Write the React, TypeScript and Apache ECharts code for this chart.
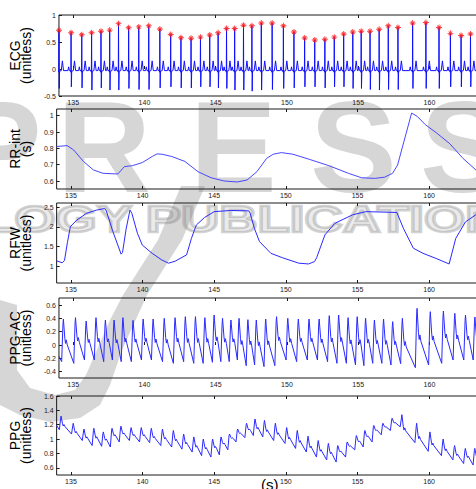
import React, { useEffect, useRef } from "react";
import * as echarts from "echarts";

// ---------- axis ranges & ticks ----------
const X_MIN = 134;
const X_MAX = 164.67;
const xTicks = [135, 140, 145, 150, 155, 160];

const ecgRange = [-0.5, 1];
const rrRange = [0.551, 1.041];
const rfwRange = [0.576, 2.61];
const ppgAcRange = [-0.495, 0.705];
const ppgRange = [0.5, 1.6];

const ecgYTicks = [-0.5, 0, 0.5, 1];
const rrYTicks = [0.6, 0.7, 0.8, 0.9, 1];
const rfwYTicks = [1, 1.5, 2, 2.5];
const ppgAcYTicks = [-0.4, -0.2, 0, 0.2, 0.4, 0.6];
const ppgYTicks = [0.6, 0.8, 1, 1.2, 1.4, 1.6];

const panelNames = ["ECG\n(unitless)", "RR-int\n(s)", "RFW\n(unitless)", "PPG-AC\n(unitless)", "PPG\n(unitless)"];

// ---------- ECG beats (R-peak times, R amplitudes, S depths) ----------
const rTimes = [134.0, 134.85, 135.6, 136.29, 136.95, 137.56, 138.18, 138.89, 139.6, 140.3, 141.08, 141.84, 142.56, 143.27, 143.93, 144.58, 145.17, 145.76, 146.33, 146.95, 147.54, 148.2, 148.96, 149.75, 150.49, 151.24, 151.95, 152.66, 153.32, 153.98, 154.62, 155.21, 155.83, 156.47, 157.11, 157.79, 158.82, 159.75, 160.67, 161.47, 162.22, 162.88];
const rAmps = [0.716, 0.673, 0.636, 0.673, 0.7, 0.72, 0.84, 0.765, 0.78, 0.8, 0.74, 0.64, 0.58, 0.57, 0.59, 0.63, 0.67, 0.75, 0.75, 0.81, 0.8, 0.85, 0.85, 0.8, 0.685, 0.574, 0.537, 0.55, 0.59, 0.65, 0.685, 0.7, 0.7, 0.735, 0.8, 0.77, 0.85, 0.86, 0.77, 0.66, 0.62, 0.65];
const sDepths = [-0.36, -0.33, -0.35, -0.39, -0.35, -0.39, -0.39, -0.36, -0.38, -0.38, -0.35, -0.33, -0.35, -0.35, -0.33, -0.33, -0.35, -0.36, -0.39, -0.39, -0.41, -0.39, -0.38, -0.36, -0.35, -0.33, -0.33, -0.35, -0.33, -0.33, -0.36, -0.36, -0.38, -0.39, -0.38, -0.38, -0.36, -0.36, -0.36, -0.33, -0.33, -0.33];
const ecgBaseline = -0.03;
const pWaveAmp = 0.04;
const tWaveAmp = 0.15;

// ---------- RR interval ----------
const rrTimes = [134.0, 134.73, 135.19, 135.87, 136.56, 137.24, 138.27, 138.73, 139.3, 139.98, 140.67, 141.01, 141.35, 142.04, 142.95, 143.87, 144.78, 145.69, 146.61, 147.29, 147.98, 148.66, 149.12, 149.69, 150.49, 151.63, 153.0, 154.37, 155.28, 156.2, 156.88, 157.45, 157.8, 158.78, 159.17, 159.74, 160.54, 161.45, 162.36, 163.3, 164.2];
const rrValues = [0.811, 0.817, 0.79, 0.72, 0.668, 0.647, 0.643, 0.688, 0.694, 0.713, 0.75, 0.766, 0.764, 0.75, 0.72, 0.657, 0.62, 0.6, 0.594, 0.606, 0.657, 0.739, 0.764, 0.774, 0.764, 0.733, 0.694, 0.647, 0.62, 0.616, 0.623, 0.647, 0.698, 1.016, 0.996, 0.945, 0.893, 0.828, 0.739, 0.665, 0.64];

// ---------- RFW ----------
const rfwTimes = [134.0, 134.39, 134.55, 134.75, 134.96, 135.42, 136.1, 136.79, 137.36, 137.47, 137.93, 138.5, 138.6, 138.85, 139.12, 139.25, 139.64, 139.98, 140.67, 141.35, 141.81, 142.27, 143.07, 143.41, 143.75, 144.32, 145.0, 146.15, 147.41, 147.5, 147.8, 148.16, 148.96, 149.75, 150.9, 151.58, 152.0, 152.15, 152.73, 153.41, 154.66, 155.58, 157.75, 158.2, 158.9, 159.58, 160.49, 161.4, 161.86, 162.54, 163.3, 164.2];
const rfwValues = [1.14, 1.09, 1.15, 1.6, 2.01, 2.18, 2.35, 2.43, 2.47, 2.41, 1.88, 1.31, 1.35, 1.95, 2.43, 2.35, 1.84, 1.54, 1.33, 1.16, 1.08, 1.13, 1.29, 1.71, 2.05, 2.24, 2.39, 2.42, 2.41, 2.36, 1.97, 1.63, 1.33, 1.22, 1.08, 1.06, 1.12, 1.22, 1.8, 2.09, 2.31, 2.39, 2.37, 1.97, 1.46, 1.33, 1.2, 1.06, 1.71, 2.13, 2.32, 2.4];

// ---------- PPG pulses (one per beat) ----------
const ppgDelay = 0.31;
const ppgAcStart = -0.17;
const ppgAcPeaks = [0.39, 0.41, 0.36, 0.41, 0.375, 0.375, 0.41, 0.37, 0.39, 0.39, 0.4, 0.41, 0.425, 0.425, 0.41, 0.45, 0.4, 0.375, 0.4, 0.38, 0.375, 0.39, 0.425, 0.4, 0.39, 0.39, 0.39, 0.44, 0.45, 0.41, 0.425, 0.4, 0.375, 0.39, 0.35, 0.4, 0.55, 0.5, 0.51, 0.475, 0.45, 0.42];
const ppgAcTroughs = [-0.25, -0.275, -0.225, -0.225, -0.25, -0.225, -0.25, -0.25, -0.225, -0.225, -0.25, -0.275, -0.25, -0.275, -0.275, -0.26, -0.25, -0.25, -0.225, -0.31, -0.3, -0.325, -0.31, -0.225, -0.25, -0.225, -0.225, -0.25, -0.275, -0.275, -0.3, -0.31, -0.275, -0.275, -0.3, -0.28, -0.34, -0.3, -0.275, -0.225, -0.225, -0.225];
const ppgStart = 1.19;
const ppgPeaks = [1.32, 1.22, 1.14, 1.15, 1.1, 1.15, 1.18, 1.16, 1.16, 1.15, 1.14, 1.12, 1.07, 1.03, 1.0, 1.0, 1.03, 1.07, 1.14, 1.22, 1.28, 1.26, 1.22, 1.16, 1.12, 1.04, 0.98, 0.94, 0.91, 0.96, 1.05, 1.12, 1.19, 1.22, 1.29, 1.34, 1.22, 1.1, 1.0, 0.91, 0.87, 0.87];
const ppgTroughs = [1.13, 1.07, 0.98, 0.91, 0.9, 0.89, 0.96, 0.98, 0.96, 0.95, 0.91, 0.89, 0.86, 0.82, 0.77, 0.75, 0.78, 0.85, 0.96, 1.02, 1.05, 1.03, 0.98, 0.94, 0.87, 0.82, 0.75, 0.71, 0.68, 0.75, 0.85, 0.89, 0.96, 1.06, 1.12, 1.17, 0.95, 0.83, 0.77, 0.71, 0.66, 0.64];

// ---------- builders ----------
function buildEcg(): number[][] {
  const pts: number[][] = [[X_MIN - 0.5, ecgBaseline]];
  rTimes.forEach((t, i) => {
    pts.push(
      [t - 0.22, ecgBaseline],
      [t - 0.17, pWaveAmp],
      [t - 0.12, ecgBaseline],
      [t - 0.035, ecgBaseline],
      [t - 0.015, -0.06],
      [t, rAmps[i]],
      [t + 0.02, sDepths[i]],
      [t + 0.045, -0.04],
      [t + 0.16, ecgBaseline],
      [t + 0.24, tWaveAmp],
      [t + 0.32, ecgBaseline]
    );
  });
  pts.push([X_MAX, ecgBaseline]);
  return pts;
}

function buildPulse(peaks: number[], troughs: number[], start: number): number[][] {
  const pts: number[][] = [[X_MIN, start]];
  rTimes.forEach((t, i) => {
    const tp = t + ppgDelay;
    const p = peaks[i];
    const next = i + 1 < troughs.length ? troughs[i + 1] : troughs[i];
    const range = p - next;
    pts.push(
      [tp - 0.12, troughs[i]],
      [tp - 0.03, p - 0.12 * range],
      [tp, p],
      [tp + 0.1, p - 0.43 * range],
      [tp + 0.15, p - 0.55 * range],
      [tp + 0.2, p - 0.47 * range],
      [tp + 0.27, p - 0.58 * range]
    );
  });
  return pts;
}

const zip = (a: number[], b: number[]) => a.map((v, i) => [v, b[i]]);

const INK = "#1a1a1a";
const LINE = "#1f1fff";
const TICK_FONT = "'Liberation Sans Narrow', 'Liberation Sans', Arial, sans-serif";
const NAME_FONT = "'Liberation Sans', Arial, sans-serif";
const WM = "rgba(128,128,128,0.32)";

const STAR =
  "path://M-0.8,-5L0.8,-5L0.8,5L-0.8,5Z M-5,-0.8L5,-0.8L5,0.8L-5,0.8Z M-3.6,-2.5L-2.5,-3.6L3.6,2.5L2.5,3.6Z M2.5,-3.6L3.6,-2.5L-2.5,3.6L-3.6,2.5Z";

function buildOption() {
  const gridBoxes = [
    { top: 15, height: 81 },
    { top: 109, height: 80 },
    { top: 203, height: 80 },
    { top: 298, height: 80 },
    { top: 396, height: 79 },
  ];
  const ranges = [ecgRange, rrRange, rfwRange, ppgAcRange, ppgRange];
  const yTicks = [ecgYTicks, rrYTicks, rfwYTicks, ppgAcYTicks, ppgYTicks];

  const grid = gridBoxes.map((g) => ({
    ...g,
    left: 49,
    right: 0,
    show: true,
    borderColor: INK,
    borderWidth: 1,
    backgroundColor: "transparent",
  }));

  const xAxis: any[] = [];
  gridBoxes.forEach((_, i) => {
    xAxis.push({
      type: "value",
      gridIndex: i,
      min: X_MIN,
      max: X_MAX,
      position: "bottom",
      axisLine: { show: false },
      splitLine: { show: false },
      axisTick: { show: true, inside: true, length: 3, customValues: xTicks, lineStyle: { color: INK, width: 1 } },
      axisLabel: { show: true, customValues: xTicks, margin: 3, fontSize: 7, fontFamily: TICK_FONT, color: INK },
    });
    xAxis.push({
      type: "value",
      gridIndex: i,
      min: X_MIN,
      max: X_MAX,
      position: "top",
      axisLine: { show: false },
      splitLine: { show: false },
      axisTick: { show: true, inside: true, length: 3, customValues: xTicks, lineStyle: { color: INK, width: 1 } },
      axisLabel: { show: false },
    });
  });

  const yAxis = gridBoxes.map((_, i) => ({
    type: "value",
    gridIndex: i,
    min: ranges[i][0],
    max: ranges[i][1],
    name: panelNames[i],
    nameLocation: "middle",
    nameRotate: 90,
    nameGap: 13,
    nameTextStyle: { fontSize: 14, lineHeight: 11, fontFamily: NAME_FONT, color: "#000" },
    axisLine: { show: false },
    splitLine: { show: false },
    axisTick: { show: true, inside: true, length: 3, customValues: yTicks[i], lineStyle: { color: INK, width: 1 } },
    axisLabel: { show: true, customValues: yTicks[i], margin: 3, fontSize: 7, fontFamily: TICK_FONT, color: INK },
  }));

  const lineSeries = (data: number[][], i: number, color = LINE, width = 1) => ({
    type: "line",
    xAxisIndex: i * 2,
    yAxisIndex: i,
    data,
    showSymbol: false,
    symbol: "none",
    clip: true,
    lineStyle: { color, width },
    z: 3,
  });

  const series: any[] = [
    lineSeries(buildEcg(), 0, "#1010ff", 1),
    {
      type: "scatter",
      xAxisIndex: 0,
      yAxisIndex: 0,
      data: zip(rTimes, rAmps),
      symbol: STAR,
      symbolSize: 6,
      itemStyle: { color: "#ff1010" },
      z: 5,
    },
    lineSeries(zip(rrTimes, rrValues), 1, "#4848ff", 1),
    lineSeries(zip(rfwTimes, rfwValues), 2, "#2a2aff", 1),
    lineSeries(buildPulse(ppgAcPeaks, ppgAcTroughs, ppgAcStart), 3, "#2a2aff", 1),
    lineSeries(buildPulse(ppgPeaks, ppgTroughs, ppgStart), 4, "#2a2aff", 1),
  ];

  const bigLetters = [
    { ch: "P", x: -45 },
    { ch: "R", x: 57 },
    { ch: "E", x: 190 },
    { ch: "S", x: 310 },
    { ch: "S", x: 420 },
  ];

  const graphic: any[] = [
    ...bigLetters.map((l) => ({
      type: "text",
      x: l.x,
      y: 147,
      silent: true,
      z: -10,
      style: { text: l.ch, fontSize: 130, fontWeight: "bold", fontFamily: NAME_FONT, fill: WM, verticalAlign: "middle", align: "left" },
    })),
    {
      type: "text",
      x: -18,
      y: 220,
      scaleX: 1.47,
      silent: true,
      z: -10,
      style: {
        text: "LOGY PUBLICATIONS",
        fontSize: 36,
        fontWeight: "bold",
        fontFamily: NAME_FONT,
        fill: "rgba(128,128,128,0.16)",
        stroke: "rgba(128,128,128,0.36)",
        lineWidth: 2.5,
        verticalAlign: "middle",
        align: "left",
      },
    },
    {
      type: "polygon",
      silent: true,
      z: -10,
      shape: {
        points: [
          [205, 186], [182, 240], [147, 295], [122, 350], [110, 385], [100, 405], [80, 418], [50, 422], [20, 415], [0, 405],
          [0, 300], [17, 305], [17, 370], [30, 388], [55, 395], [75, 390], [86, 375], [110, 320], [123, 295], [158, 240], [181, 186],
        ],
      },
      style: { fill: WM },
    },
    {
      type: "text",
      x: 261,
      y: 477,
      silent: true,
      style: { text: "(s)", fontSize: 15, fontFamily: NAME_FONT, fill: "#000", verticalAlign: "top", align: "left" },
    },
  ];

  return {
    animation: false,
    backgroundColor: "#ffffff",
    grid,
    xAxis,
    yAxis,
    series,
    graphic,
  };
}

export default function App() {
  const ref = useRef<HTMLDivElement>(null);
  useEffect(() => {
    document.body.style.overflow = "hidden";
    if (!ref.current) return;
    const chart = echarts.init(ref.current, null, { renderer: "svg" });
    chart.setOption(buildOption() as any);
    return () => chart.dispose();
  }, []);
  return (
    <div
      ref={ref}
      style={{ position: "fixed", left: 0, top: 0, width: 496, height: 489, background: "#fff" }}
    />
  );
}
